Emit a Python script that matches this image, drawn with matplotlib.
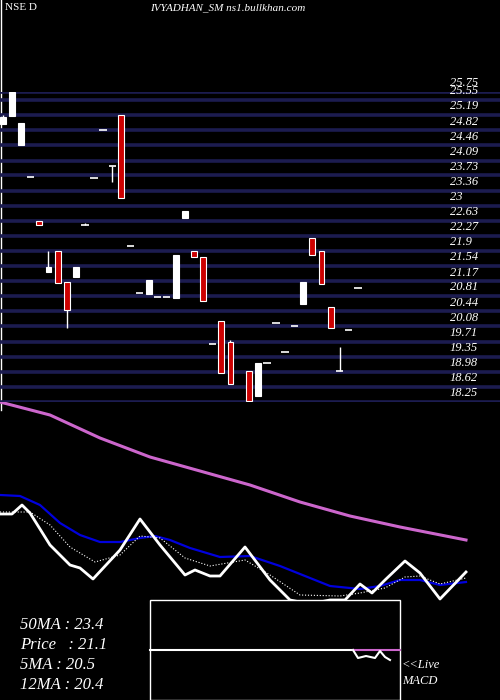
import matplotlib.pyplot as plt
import numpy as np

# candle data (open, close, high, low); last ones with equal open/close are dashes
opens = [24.97, 25.17, 24.46, 23.70, 22.63, 21.39, 21.90, 21.15, 21.27, 22.53,
         23.66, 24.82, 23.97, 25.19, 22.02, 20.88, 20.86, 20.78, 20.78, 20.76,
         22.71, 21.90, 21.76, 19.66, 20.22, 19.71, 18.08, 19.00, 18.40, 19.20,
         20.15, 19.47, 20.10, 20.61, 22.22, 21.90, 20.56, 19.00, 19.98, 21.00]
closes = [25.14, 25.75, 24.995, 23.70, 22.53, 21.51, 21.12, 20.47, 21.51, 22.53,
          23.66, 24.82, 23.97, 23.19, 22.02, 20.88, 21.20, 20.78, 20.78, 21.81,
          22.88, 21.76, 20.69, 19.66, 18.96, 18.69, 18.08, 18.27, 19.20, 19.20,
          20.15, 19.47, 20.10, 21.15, 21.81, 21.10, 20.03, 19.00, 19.98, 21.00]
highs = [25.19, 25.75, 24.995, 23.70, 22.63, 21.90, 21.90, 21.15, 21.51, 22.58,
         23.66, 24.82, 23.97, 25.19, 22.02, 20.88, 21.20, 20.78, 20.78, 21.81,
         22.88, 21.90, 21.76, 19.66, 20.22, 19.76, 18.08, 19.00, 19.20, 19.20,
         20.15, 19.47, 20.10, 21.15, 22.22, 21.90, 20.56, 19.57, 19.98, 21.00]
lows = [24.97, 25.17, 24.46, 23.70, 22.53, 21.39, 21.12, 20.05, 21.27, 22.53,
        23.66, 24.82, 23.58, 23.19, 22.02, 20.88, 20.86, 20.78, 20.78, 20.76,
        22.71, 21.76, 20.69, 19.66, 18.96, 18.69, 18.08, 18.27, 18.40, 19.20,
        20.15, 19.47, 20.10, 20.61, 21.81, 21.10, 20.03, 19.00, 19.98, 21.00]
levels = [25.75, 25.55, 25.19, 24.82, 24.46, 24.09, 23.73, 23.36, 23.0, 22.63, 22.27,
          21.9, 21.54, 21.17, 20.81, 20.44, 20.08, 19.71, 19.35, 18.98, 18.62, 18.25]
level_labels = ['25.75', '25.55', '25.19', '24.82', '24.46', '24.09', '23.73', '23.36', '23',
                '22.63', '22.27', '21.9', '21.54', '21.17', '20.81', '20.44', '20.08',
                '19.71', '19.35', '18.98', '18.62', '18.25']

# lower panel lines (x, y in panel units, y grows downward)
ma50_x = [0, 50, 100, 150, 200, 250, 300, 350, 400, 466]
ma50_y = [402, 415, 438, 457, 471, 485, 502, 516, 527, 540]
ma12_x = [0, 20, 40, 60, 80, 100, 120, 140, 155, 170, 190, 220, 250, 280, 310, 330, 360, 380, 400, 420, 440, 466]
ma12_y = [495, 496, 505, 523, 535, 542, 542, 538, 536, 540, 548, 557, 556, 566, 578, 586, 589, 586, 580, 580, 585, 582]
price_x = [0, 12, 22, 30, 50, 70, 80, 93, 120, 140, 160, 185, 195, 210, 220, 245, 270, 290, 310, 330, 345, 360, 372, 385, 405, 420, 440, 466]
price_y = [514, 514, 505, 513, 545, 565, 568, 579, 550, 519, 545, 575, 570, 576, 576, 547, 580, 600, 604, 600, 600, 584, 593, 580, 561, 573, 599, 572]
ma5_x = [0, 30, 50, 70, 95, 120, 140, 160, 185, 210, 245, 270, 300, 340, 360, 385, 405, 420, 440, 466]
ma5_y = [512, 512, 525, 547, 562, 555, 536, 538, 558, 566, 560, 575, 595, 596, 593, 588, 577, 576, 584, 578]
macd_x = [353, 358, 366, 375, 380, 385, 390]
macd_y = [650, 658, 656, 658, 651, 657, 660]

plt.rcParams['font.family'] = ['Liberation Serif', 'DejaVu Serif']
fig = plt.figure(figsize=(5, 7), dpi=100, facecolor='black')

# pixel overlay axes
bg = fig.add_axes([0, 0, 1, 1])
bg.set_xlim(0, 500)
bg.set_ylim(700, 0)
bg.axis('off')
bg.set_facecolor('black')

# price axes
px = fig.add_axes([0, (700 - 402) / 700, 1, 310 / 700])
px.set_facecolor('none')
px.set_ylim(18.25, 25.75)
px.set_xlim(-3 / 9.1, 497 / 9.1)
px.axis('off')
for lv, lb in zip(levels, level_labels):
    px.axhline(lv, color='#1c1c50', lw=2.6, zorder=0)
    px.annotate(lb, (450 / 9.1 - 3 / 9.1, lv), xytext=(0, 2), textcoords='offset points',
                color='white', fontsize=9, style='italic', va='bottom', ha='left',
                annotation_clip=False)

for i in range(len(opens)):
    o, c, h, l = opens[i], closes[i], highs[i], lows[i]
    px.vlines(i, l, h, color='white', lw=1, zorder=2)
    if abs(o - c) < 0.01:
        px.hlines(o, i - 0.4, i + 0.4, color='white', lw=1.2, zorder=3)
    else:
        col = 'white' if c > o else '#cc0000'
        px.bar(i, abs(c - o), bottom=min(o, c), width=0.65, color=col,
               edgecolor='white', lw=0.8, zorder=3)

bg.text(5, 8, 'NSE D', color='white', fontsize=8, va='center')
bg.text(150, 8, 'IVYADHAN_SM ns1.bullkhan.com', color='white', fontsize=8, va='center', style='italic')
bg.plot([1, 1], [0, 410], color='white', lw=1)

bg.plot(ma50_x, ma50_y, color='#cc66cc', lw=2.2)
bg.plot(ma12_x, ma12_y, color='#0000dd', lw=1.6)
bg.plot(ma5_x, ma5_y, color='white', lw=0.8, ls=':')
bg.plot(price_x, price_y, color='white', lw=2)

# MACD box
bg.add_patch(plt.Rectangle((150, 600), 250, 100, facecolor='black', edgecolor='white', lw=1, zorder=5))
bg.plot([150, 353], [650, 650], color='white', lw=1.5, zorder=6)
bg.plot([353, 400], [650, 650], color='#cc66cc', lw=1.5, zorder=6)
bg.plot(macd_x, macd_y, color='white', lw=1.5, zorder=6)
bg.text(402, 665, '<<Live', color='white', fontsize=9, style='italic', va='center')
bg.text(402, 681, 'MACD', color='white', fontsize=9, style='italic', va='center')

for k, t in enumerate(['50MA : 23.4', 'Price   : 21.1', '5MA : 20.5', '12MA : 20.4']):
    bg.text(20, 625 + k * 20, t, color='white', fontsize=12, style='italic', va='center')

fig.savefig('out.png', dpi=100, facecolor='black')
